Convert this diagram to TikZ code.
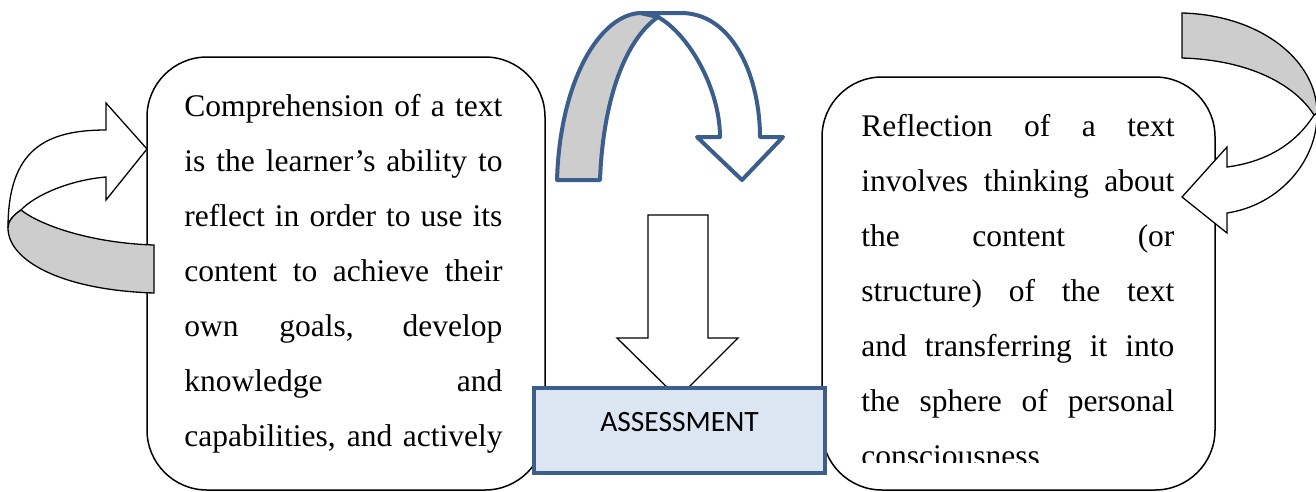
\documentclass[tikz,border=0pt]{standalone}
\usepackage{fontspec}
\setmainfont{Liberation Serif}
\newfontfamily\boxfont{Carlito}
\usetikzlibrary{calc,positioning}

\definecolor{arrowblue}{HTML}{3B5E8C}
\definecolor{bandgray}{HTML}{CDCDCD}
\definecolor{assessfill}{HTML}{DCE6F2}

\newcommand{\jline}[2]{\makebox[#1][s]{\spaceskip=0pt\xspaceskip=0pt\relax #2}}

\begin{document}
\begin{tikzpicture}[x=1pt, y=-1pt]
	\tikzstyle{textbox}=[draw, rectangle, rounded corners=60pt, line width=1.5pt, fill=white]
	\tikzstyle{bodytext}=[inner sep=0pt, anchor=base west, align=justify, font=\fontsize{31.5}{55}\selectfont]
	\tikzstyle{assessbox}=[draw=arrowblue, fill=assessfill, line width=4pt, rectangle,
	minimum width=291pt, minimum height=85pt, text height=18pt, text depth=16pt,
	font=\boxfont\fontsize{29.5}{31}\selectfont]
	\tikzstyle{bendarrow}=[draw, line width=1.3pt, line join=miter, fill=white]
	\tikzstyle{bluearrow}=[draw=arrowblue, line width=4pt, line join=round, fill=white]

	\useasboundingbox (0,0) rectangle (1316,491);

	\node[textbox, minimum width=398pt, minimum height=433pt] (leftbox) at (346,273.5) {};
	\node[textbox, minimum width=393pt, minimum height=413pt] (rightbox) at (1018.5,283.5) {};

	\node[bodytext, text width=318pt] (lefttext) at ([xshift=38pt, yshift=-60pt]leftbox.north west)
	{\jline{318pt}{Comprehension of a text}\\ \jline{318pt}{is the learner’s ability to}\\
	\jline{318pt}{reflect in order to use its}\\ \jline{318pt}{content to achieve their}\\
	\jline{318pt}{own goals, develop}\\ \jline{318pt}{knowledge and}\\
	\jline{318pt}{capabilities, and actively}};

	\begin{scope}
		\clip (822,77) rectangle (1215,462);
		\node[bodytext, text width=313pt] (righttext) at ([xshift=40pt, yshift=-60pt]rightbox.north west)
		{\jline{313pt}{Reflection of a text}\\ \jline{313pt}{involves thinking about}\\
		\jline{313pt}{the content (or}\\ \jline{313pt}{structure) of the text}\\
		\jline{313pt}{and transferring it into}\\ \jline{313pt}{the sphere of personal}\\ consciousness};
	\end{scope}

	% left curved arrow
	\draw[bendarrow] (8,228) .. controls (8,150) and (45,130) .. (106,130) -- (106,103) -- (147,149)
	-- (106,200) -- (106,177) .. controls (70,180) and (35,195) .. (21,210)
	.. controls (12,216) and (8,222) .. (8,228) -- cycle;
	\draw[bendarrow, fill=bandgray] (154,245) -- (154,293) .. controls (60,290) and (8,260) .. (8,228)
	.. controls (8,222) and (12,216) .. (21,210) .. controls (40,225) and (90,243) .. (154,245) -- cycle;

	% top curved arrow
	\draw[bluearrow] (640,13) -- (683,13) .. controls (735,15) and (760,80) .. (760,137) -- (783,137)
	-- (742,180) -- (697,137) -- (720,137) .. controls (720,90) and (690,35) .. (658,17) -- cycle;
	\draw[bluearrow, fill=bandgray] (557,180) -- (600,180) .. controls (603,100) and (625,40) .. (658,17)
	-- (640,13) .. controls (600,15) and (560,80) .. (557,180) -- cycle;

	% right curved arrow
	\draw[bendarrow] (1314,115) .. controls (1295,145) and (1265,162) .. (1227,167) -- (1227,147)
	-- (1182,197) -- (1227,233) -- (1227,213) .. controls (1280,205) and (1318,160) .. (1317,113) -- cycle;
	\draw[bendarrow, fill=bandgray] (1182,13) .. controls (1260,15) and (1317,60) .. (1317,113)
	-- (1314,115) .. controls (1295,85) and (1250,60) .. (1182,58) -- cycle;

	% down arrow
	\draw[bendarrow] (648,215) -- (708,215) -- (708,338) -- (738,338) -- (678,398) -- (617,338)
	-- (648,338) -- cycle;

	\node[assessbox] (assess) at (679.5,430.5) {ASSESSMENT};
\end{tikzpicture}
\end{document}
